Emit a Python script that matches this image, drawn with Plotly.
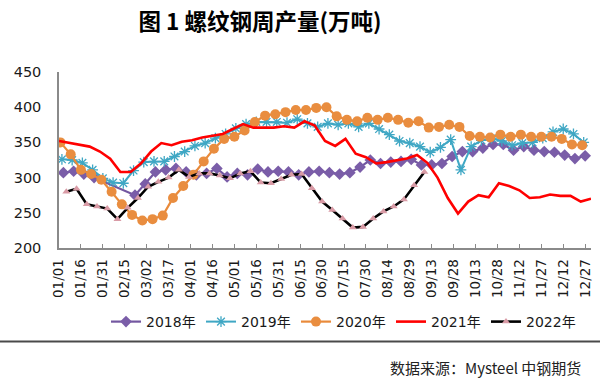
import plotly.graph_objects as go
import pandas as pd

# ---------------- data ----------------
tick_labels = ["01/01", "01/16", "01/31", "02/15", "03/02", "03/17", "04/01", "04/16",
               "05/01", "05/16", "05/31", "06/15", "06/30", "07/15", "07/30", "08/14",
               "08/29", "09/13", "09/28", "10/13", "10/28", "11/12", "11/27", "12/12", "12/27"]

series_names = ["2018年", "2019年", "2020年", "2021年", "2022年"]

# first weekly reading of each year, placed on a common (non-leap) calendar
start_2018 = "2021-01-04"
start_2019 = "2021-01-03"
start_2020 = "2021-01-02"
start_2021 = "2021-01-01"
start_2022 = "2021-01-06"

y2018 = [307, 309, 305, 300, None, None, None, 275, 291, 308, 311, 313, 308, 304, 306, 313,
         301, 306, 304, 312, 308, 309, 308, 304, 308, 309, 307, 305, 307, 315, 325, 320,
         322, 323, 326, 318, 318, 320, 330, 337, 337, 342, 347, 347, 339, 344, 339, 337,
         336, 332, 327, 331]
y2019 = [326, 325, 321, 311, 299, 293, 292, 310, 322, 323, 323, 330, 337, 345, 349, 356,
         362, 370, 376, 379, 379, 379, 378, 383, 377, 372, 377, 375, 377, 372, 377, 369,
         361, 352, 349, 344, 336, 343, 354, 311, 344, 353, 356, 352, 346, 349, 350, 356,
         365, 369, 362, 350]
y2020 = [350, 333, 311, 305, 297, 280, 262, 247, 239, 241, 246, 271, 288, 304, 323, 341,
         355, 358, 367, 379, 388, 390, 393, 396, 396, 399, 400, 387, 382, 380, 385, 382,
         385, 382, 378, 380, 371, 372, 375, 372, 359, 358, 357, 361, 358, 361, 358, 358,
         358, 355, 347, 346]
y2021 = [352, 349, 346, 344, 337, 327, 308, 308, 320, 337, 349, 346, 351, 353, 357, 359,
         362, 369, 376, 371, 371, 371, 373, 371, 380, 374, 352, 345, 355, 334, 329, 320,
         322, 324, 327, 332, 321, 300, 271, 249, 266, 275, 272, 292, 288, 282, 271, 272,
         276, 274, 274, 266, 270]
y2022 = [280, 284, 262, 259, 256, 241, 257, 271, 287, 294, 300, 311, 301, 306, 306, 303,
         299, 306, 309, 293, 292, 298, 304, 305, 285, 266, 254, 242, 229, 230, 242, 252,
         259, 269, 289, 308]

# ---------------- figure ----------------
W, H = 600, 378
ML, MR, MT, MB = 59, 9, 72, 130
PW, PH = W - ML - MR, H - MT - MB


def px_x(p):
    return (p - ML) / PW


def px_y(p):
    return (H - MB - p) / PH


def weekly(start, values):
    return pd.date_range(start, periods=len(values), freq="7D")


fig = go.Figure()

fig.add_trace(go.Scatter(
    x=weekly(start_2018, y2018), y=y2018, name=series_names[0], mode="lines+markers",
    connectgaps=True,
    line=dict(color="#7357A0", width=2.2),
    marker=dict(symbol="diamond", size=9, color="#7A5DA8")))

fig.add_trace(go.Scatter(
    x=weekly(start_2019, y2019), y=y2019, name=series_names[1], mode="lines+markers",
    line=dict(color="#3FA7C4", width=2),
    marker=dict(symbol="asterisk-open", size=9, line=dict(color="#6EC2DA", width=1.3))))

fig.add_trace(go.Scatter(
    x=weekly(start_2020, y2020), y=y2020, name=series_names[2], mode="lines+markers",
    line=dict(color="#E98A3A", width=2.2),
    marker=dict(symbol="circle", size=10, color="#E98D3F")))

fig.add_trace(go.Scatter(
    x=weekly(start_2021, y2021), y=y2021, name=series_names[3], mode="lines",
    line=dict(color="#FF0000", width=2.6)))

fig.add_trace(go.Scatter(
    x=weekly(start_2022, y2022), y=y2022, name=series_names[4], mode="lines+markers",
    line=dict(color="#000000", width=2.6),
    marker=dict(symbol="triangle-up", size=7, color="#D99BA6")))

tick_vals = ["2021-" + t.replace("/", "-") for t in tick_labels]

fig.update_layout(
    width=W, height=H,
    margin=dict(l=ML, r=MR, t=MT, b=MB, autoexpand=False),
    paper_bgcolor="white", plot_bgcolor="white",
    font=dict(family="DejaVu Sans, Noto Sans CJK SC", size=14, color="#1a1a1a"),
    title=dict(text="图 1 螺纹钢周产量(万吨)", x=260 / W, xanchor="center", xref="container",
               y=1 - 22 / H, yanchor="middle", yref="container",
               font=dict(family="Noto Sans CJK SC", size=22.5, color="#000000", weight="bold")),
    xaxis=dict(type="date", range=["2021-01-01", "2021-12-31"],
               tickmode="array", tickvals=tick_vals, ticktext=tick_labels,
               tickangle=-90, ticks="inside", ticklen=4, tickcolor="#8a8a8a", tickwidth=1,
               showline=True, linecolor="#8a8a8a", linewidth=1.5, showgrid=False,
               zeroline=False, tickfont=dict(size=13.5), ticklabelstandoff=4,
               automargin=False),
    yaxis=dict(range=[200, 450], dtick=50, tick0=200, showline=True, linecolor="#8a8a8a",
               linewidth=1.5, showgrid=False, zeroline=False, ticks="",
               tickfont=dict(size=14.5), ticklabelstandoff=13, automargin=False),
    legend=dict(orientation="h", x=px_x(106), xanchor="left", y=px_y(322), yanchor="middle",
                font=dict(size=14), itemwidth=30, entrywidth=50, entrywidthmode="pixels",
                bgcolor="rgba(0,0,0,0)", traceorder="normal"),
    showlegend=True,
)

fig.add_shape(type="line", xref="paper", yref="paper",
              x0=px_x(0), x1=px_x(W), y0=px_y(341.5), y1=px_y(341.5),
              line=dict(color="#4a4a4a", width=2))

fig.add_annotation(text="数据来源：Mysteel 中钢期货", xref="paper", yref="paper",
                   x=px_x(583), xanchor="right", y=px_y(367), yanchor="middle",
                   showarrow=False, font=dict(family="Noto Sans CJK SC", size=15, color="#222222"))

fig.write_html("out.html", config={"displayModeBar": False},
               post_script="document.body.style.margin='0';document.body.style.overflow='hidden';")
